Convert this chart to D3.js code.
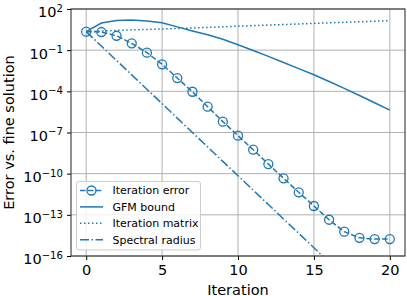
<!DOCTYPE html>
<html>
<head>
<meta charset="utf-8">
<script src="https://cdn.jsdelivr.net/npm/d3@7"></script>
<style>
  body { margin: 0; background: #fff; }
  text { font-family: "DejaVu Sans", sans-serif; }
</style>
</head>
<body>
<div id="chart"></div>
<script>
// iterations 0..20
const iterations = d3.range(0, 21);

// (values, log y axis)
const iterationError = [2.24, 2.1, 1.12, 0.316, 0.066, 9.3e-3, 9.3e-4, 9.3e-5, 7.6e-6, 6.2e-7,
  5.9e-8, 5.6e-9, 5.0e-10, 4.6e-11, 4.4e-12, 4.4e-13, 4.4e-14, 5.9e-15, 2.1e-15, 1.7e-15, 1.7e-15];
const gfmBound = [2.24, 9.5, 14.5, 15.5, 13.2, 10.0, 5.0, 2.5, 1.32, 0.63,
  0.25, 0.095, 0.035, 0.0126, 4.5e-3, 1.6e-3, 5.2e-4, 1.66e-4, 5.0e-5, 1.48e-5, 4.3e-6];
const iterationMatrix = [2.24, 2.5, 2.75, 3.0, 3.25, 3.5, 3.8, 4.15, 4.55, 5.0,
  5.6, 6.15, 6.75, 7.4, 8.1, 8.9, 9.8, 10.7, 11.7, 12.9, 14.1];
const spectralRadius = [2.24, 0.2, 0.0178, 1.58e-3, 1.41e-4, 1.26e-5, 1.12e-6, 1.0e-7, 8.9e-9, 7.9e-10,
  7.1e-11, 6.3e-12, 5.6e-13, 5.0e-14, 4.5e-15, 4.0e-16, 3.5e-17, 3.2e-18, 2.8e-19, 2.5e-20, 2.2e-21];

const xTicks = [0, 5, 10, 15, 20];
const yTickExps = [2, -1, -4, -7, -10, -13, -16];
const legendLabels = ["Iteration error", "GFM bound", "Iteration matrix", "Spectral radius"];

const width = 407;
const height = 296;
const marginTop = 9;
const marginRight = 2;
const marginBottom = 40;
const marginLeft = 71;
const blue = "#1f77b4";

const x = d3.scaleLinear()
  .domain([-1, 21])
  .range([marginLeft, width - marginRight]);

const y = d3.scaleLog()
  .domain([1e-16, 1e2])
  .range([height - marginBottom, marginTop]);

const svg = d3.select("#chart")
  .append("svg")
  .attr("width", width)
  .attr("height", height)
  .attr("viewBox", [0, 0, width, height]);

svg.append("clipPath")
  .attr("id", "plotClip")
  .append("rect")
  .attr("x", marginLeft)
  .attr("y", marginTop)
  .attr("width", width - marginRight - marginLeft)
  .attr("height", height - marginBottom - marginTop);

// grid
svg.append("g")
  .selectAll("line")
  .data(xTicks)
  .join("line")
  .attr("x1", d => x(d)).attr("x2", d => x(d))
  .attr("y1", marginTop).attr("y2", height - marginBottom)
  .attr("stroke", "#b0b0b0").attr("stroke-width", 1);

svg.append("g")
  .selectAll("line")
  .data(yTickExps)
  .join("line")
  .attr("x1", marginLeft).attr("x2", width - marginRight)
  .attr("y1", d => y(Math.pow(10, d))).attr("y2", d => y(Math.pow(10, d)))
  .attr("stroke", "#b0b0b0").attr("stroke-width", 1);

// axes
const xAxis = svg.append("g")
  .attr("transform", `translate(0,${height - marginBottom})`)
  .call(d3.axisBottom(x).tickValues(xTicks).tickSize(4).tickPadding(5).tickFormat(d3.format("d")));
xAxis.select(".domain").remove();
xAxis.selectAll("text").attr("font-size", 14.5).attr("fill", "#000");

const yAxis = svg.append("g")
  .attr("transform", `translate(${marginLeft},0)`)
  .call(d3.axisLeft(y).tickValues(yTickExps.map(e => Math.pow(10, e))).tickSize(4).tickPadding(4).tickFormat(""));
yAxis.select(".domain").remove();
yAxis.selectAll(".tick text")
  .attr("font-size", 14.5)
  .attr("fill", "#000")
  .attr("dy", "0.55em")
  .each(function (d) {
    const t = d3.select(this);
    const e = Math.round(Math.log10(d));
    t.append("tspan").text("10");
    t.append("tspan")
      .attr("dy", "-0.55em")
      .attr("font-size", "0.7em")
      .text(e < 0 ? "\u2212" + (-e) : String(e));
  });

svg.selectAll(".tick line").attr("stroke", "#000").attr("stroke-width", 1);

// frame
svg.append("rect")
  .attr("x", marginLeft).attr("y", marginTop)
  .attr("width", width - marginRight - marginLeft)
  .attr("height", height - marginBottom - marginTop)
  .attr("fill", "none").attr("stroke", "#222").attr("stroke-width", 1);

const line = d3.line()
  .x((d, i) => x(iterations[i]))
  .y(d => y(d));

const plot = svg.append("g").attr("clip-path", "url(#plotClip)");

const series = [
  { values: gfmBound, dash: null },
  { values: iterationMatrix, dash: "1.5,2.5" },
  { values: spectralRadius, dash: "9,2.5,1.5,2.5" },
  { values: iterationError, dash: "5.5,2.4" }
];

series.forEach(s => {
  plot.append("path")
    .datum(s.values)
    .attr("fill", "none")
    .attr("stroke", blue)
    .attr("stroke-width", 1.5)
    .attr("stroke-dasharray", s.dash)
    .attr("d", line);
});

plot.append("g")
  .selectAll("circle")
  .data(iterationError)
  .join("circle")
  .attr("cx", (d, i) => x(iterations[i]))
  .attr("cy", d => y(d))
  .attr("r", 4.5)
  .attr("fill", "none")
  .attr("stroke", blue)
  .attr("stroke-width", 1.3);

// legend
const legend = svg.append("g");
legend.append("rect")
  .attr("x", 76.5).attr("y", 181.5)
  .attr("width", 124).attr("height", 68.5)
  .attr("rx", 2.5)
  .attr("fill", "#fff").attr("fill-opacity", 0.8)
  .attr("stroke", "#cccccc").attr("stroke-width", 1);

const legendDash = [series[3].dash, null, series[1].dash, series[2].dash];
legendLabels.forEach((label, i) => {
  const ly = 190.5 + i * 16.4;
  legend.append("line")
    .attr("x1", 80).attr("x2", 103)
    .attr("y1", ly).attr("y2", ly)
    .attr("stroke", blue).attr("stroke-width", 1.5)
    .attr("stroke-dasharray", legendDash[i]);
  if (i === 0) {
    legend.append("circle")
      .attr("cx", 91.5).attr("cy", ly).attr("r", 4.5)
      .attr("fill", "none").attr("stroke", blue).attr("stroke-width", 1.3);
  }
  legend.append("text")
    .attr("x", 112.5).attr("y", ly)
    .attr("dy", "0.36em")
    .attr("font-size", 11)
    .text(label);
});

// axis labels
svg.append("text")
  .attr("x", (marginLeft + width - marginRight) / 2)
  .attr("y", 294.5)
  .attr("text-anchor", "middle")
  .attr("font-size", 14.5)
  .text("Iteration");

svg.append("text")
  .attr("transform", `translate(13.5,${(marginTop + height - marginBottom) / 2}) rotate(-90)`)
  .attr("text-anchor", "middle")
  .attr("font-size", 14.5)
  .text("Error vs. fine solution");
</script>
</body>
</html>
